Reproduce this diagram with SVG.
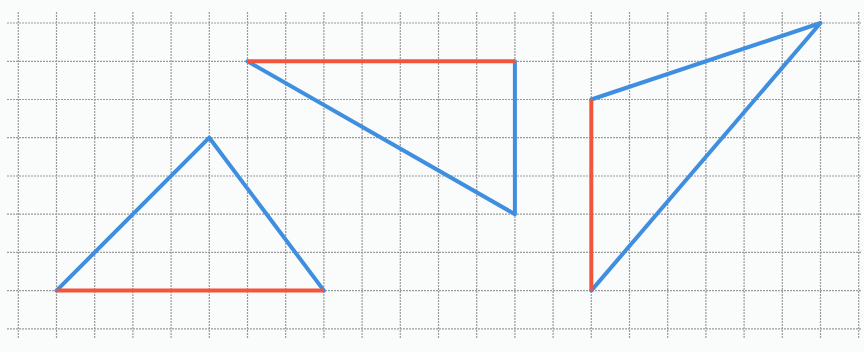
<svg xmlns="http://www.w3.org/2000/svg" width="864" height="352" viewBox="0 0 864 352">
  <style>
    .g { stroke: #9a9a9a; stroke-width: 1.2; stroke-dasharray: 2 1; fill: none; }
    .blue { stroke: #3f8ee0; stroke-width: 4; stroke-linecap: round; stroke-linejoin: round; fill: none; }
    .red { stroke: #f2553a; stroke-width: 4; stroke-linecap: butt; fill: none; }
  </style>
  <rect width="864" height="352" fill="#fafcfc"/>
  <g id="grid">
    <path class="g" d="M7 23H862M7 61.3H862M7 99.5H862M7 137.7H862M7 176H862M7 214.2H862M7 252.4H862M7 290.6H862M7 328.8H862"/>
    <path class="g" d="M18.3 12V338M56.5 12V338M94.7 12V338M132.9 12V338M171.1 12V338M209.3 12V338M247.5 12V338M285.7 12V338M323.9 12V338M362.1 12V338M400.3 12V338M438.5 12V338M476.7 12V338M514.9 12V338M553.1 12V338M591.3 12V338M629.5 12V338M667.7 12V338M705.9 12V338M744.1 12V338M782.3 12V338M820.5 12V338M858.7 12V338"/>
  </g>
  <g id="triangle-left">
    <polyline class="blue" points="56.5,290.6 209.3,137.7 323.9,290.6"/>
    <line class="red" x1="56.5" y1="290.6" x2="323.9" y2="290.6"/>
  </g>
  <g id="triangle-middle">
    <polyline class="blue" points="247.5,61.3 514.9,214.2 514.9,61.3"/>
    <line class="red" x1="247.5" y1="61.3" x2="514.9" y2="61.3"/>
  </g>
  <g id="triangle-right">
    <polyline class="blue" points="591.3,99.5 820.5,23 591.3,290.6"/>
    <line class="red" x1="591.3" y1="99.5" x2="591.3" y2="290.6"/>
  </g>
</svg>
